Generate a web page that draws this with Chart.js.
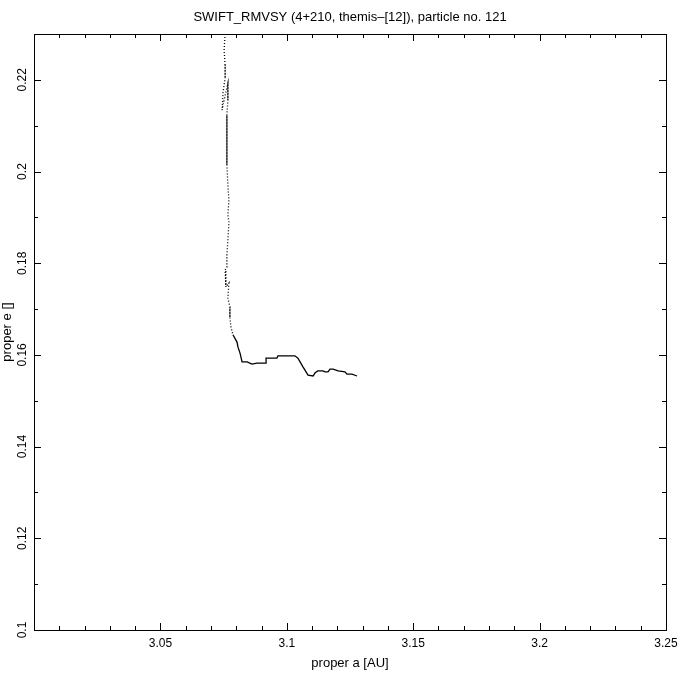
<!DOCTYPE html>
<html>
<head>
<meta charset="utf-8">
<script src="https://cdn.jsdelivr.net/npm/chart.js@4.4.1/dist/chart.umd.min.js"></script>
<style>
  html, body { margin: 0; padding: 0; background: #fff; }
  #wrap { width: 680px; height: 680px; }
</style>
</head>
<body>
<div id="wrap"><canvas id="chart" width="680" height="680"></canvas></div>
<script>
const titleText = 'SWIFT_RMVSY (4+210, themis\u2013[12]), particle no. 121';
const xTitle = 'proper a [AU]';
const yTitle = 'proper e []';

const xTickLabels = ['3.05', '3.1', '3.15', '3.2', '3.25'];
const yTickLabels = ['0.1', '0.12', '0.14', '0.16', '0.18', '0.2', '0.22'];

// orbit track (top of the plot first, then down and right)
const properA = [
    3.0756, 3.0752, 3.0756, 3.0756, 3.0748, 3.0744, 3.0752, 3.0767, 3.0767, 3.0763,
    3.0763, 3.0763, 3.0767, 3.0771, 3.0767, 3.0771, 3.0767, 3.0763, 3.0763, 3.0756,
    3.0759, 3.0771, 3.0767, 3.0775, 3.0775, 3.0779, 3.0787, 3.0803, 3.0807, 3.0815,
    3.0823, 3.0843, 3.0862, 3.0882, 3.0902, 3.0918, 3.0918, 3.0961, 3.0965, 3.1032,
    3.1044, 3.1064, 3.1084, 3.1104, 3.1112, 3.1123, 3.1143, 3.1151, 3.1163, 3.1171,
    3.1183, 3.1203, 3.1230, 3.1238, 3.1258, 3.1278
];
const properE = [
    0.2300, 0.2265, 0.2232, 0.2204, 0.2174, 0.2134, 0.2156, 0.2193, 0.2156, 0.2123,
    0.2069, 0.2014, 0.1971, 0.1938, 0.1905, 0.1890, 0.1851, 0.1818, 0.1792, 0.1785,
    0.1748, 0.1757, 0.1724, 0.1705, 0.1681, 0.1661, 0.1644, 0.1628, 0.1617, 0.1604,
    0.1585, 0.1585, 0.1580, 0.1582, 0.1582, 0.1582, 0.1593, 0.1593, 0.1598, 0.1598,
    0.1593, 0.1574, 0.1556, 0.1554, 0.1561, 0.1565, 0.1565, 0.1563, 0.1563, 0.1569,
    0.1569, 0.1565, 0.1563, 0.1558, 0.1558, 0.1554
];

const FONT = "'Liberation Sans', Arial, sans-serif";

function isLabel(list, v) {
    return list.some(s => Math.abs(parseFloat(s) - v) < 1e-6);
}

// box round the plot, inward ticks on all four sides, title centred on the plot
const frameTicks = {
    id: 'frameTicks',
    afterDraw(chart) {
        const { ctx, chartArea: a, scales: { x, y } } = chart;
        ctx.save();
        ctx.strokeStyle = '#000';
        ctx.lineWidth = 1;
        ctx.strokeRect(Math.round(a.left) + 0.5, Math.round(a.top) + 0.5,
            Math.round(a.right - a.left), Math.round(a.bottom - a.top));
        ctx.beginPath();
        x.ticks.forEach(t => {
            const px = Math.round(x.getPixelForValue(t.value)) + 0.5;
            const len = t.label ? 7 : 4;
            ctx.moveTo(px, a.bottom); ctx.lineTo(px, a.bottom - len);
            ctx.moveTo(px, a.top); ctx.lineTo(px, a.top + len);
        });
        y.ticks.forEach(t => {
            const py = Math.round(y.getPixelForValue(t.value)) + 0.5;
            const len = t.label ? 7 : 4;
            ctx.moveTo(a.left, py); ctx.lineTo(a.left + len, py);
            ctx.moveTo(a.right, py); ctx.lineTo(a.right - len, py);
        });
        ctx.stroke();

        ctx.fillStyle = '#000';
        ctx.font = '13px ' + FONT;
        ctx.textAlign = 'center';
        ctx.textBaseline = 'middle';
        ctx.fillText(titleText, (a.left + a.right) / 2, 17);
        ctx.restore();
    }
};

const points = properA.map((a, i) => ({ x: a, y: properE[i] }));

new Chart(document.getElementById('chart'), {
    type: 'scatter',
    data: {
        datasets: [{
            data: points,
            showLine: true,
            borderColor: '#000',
            borderWidth: 1.3,
            pointRadius: 0,
            tension: 0,
            segment: {
                borderDash: ctx => ctx.p0.parsed.y > 0.1655 ? [1, 2] : undefined
            }
        }]
    },
    options: {
        responsive: false,
        animation: false,
        events: [],
        layout: { padding: { left: 0, right: 14, top: 34, bottom: 0 } },
        plugins: {
            legend: { display: false },
            tooltip: { enabled: false },
            title: { display: false }
        },
        scales: {
            x: {
                type: 'linear',
                min: 3.0,
                max: 3.25,
                afterFit: s => { s.height = 50; s.paddingLeft = 0; s.paddingRight = 0; },
                border: { display: false },
                grid: { display: false, drawTicks: false },
                ticks: {
                    stepSize: 0.01,
                    autoSkip: false,
                    maxRotation: 0,
                    padding: 6,
                    color: '#000',
                    font: { family: FONT, size: 12 },
                    callback: v => isLabel(xTickLabels, v) ? String(+v.toFixed(2)) : ''
                },
                title: {
                    display: true,
                    text: xTitle,
                    color: '#000',
                    font: { family: FONT, size: 13, lineHeight: 1.2 },
                    padding: { top: 0, bottom: 9 }
                }
            },
            y: {
                type: 'linear',
                min: 0.1,
                max: 0.23,
                afterFit: s => { s.width = 34; s.paddingTop = 0; s.paddingBottom = 0; },
                border: { display: false },
                grid: { display: false, drawTicks: false },
                ticks: {
                    stepSize: 0.01,
                    autoSkip: false,
                    minRotation: 90,
                    maxRotation: 90,
                    crossAlign: 'center',
                    padding: 0,
                    color: '#000',
                    font: { family: FONT, size: 12 },
                    callback: v => isLabel(yTickLabels, v) ? String(+v.toFixed(2)) : ''
                },
                title: {
                    display: true,
                    text: yTitle,
                    color: '#000',
                    font: { family: FONT, size: 13, lineHeight: 1.2 },
                    padding: { top: 0, bottom: 0 }
                }
            }
        }
    },
    plugins: [frameTicks]
});
</script>
</body>
</html>
